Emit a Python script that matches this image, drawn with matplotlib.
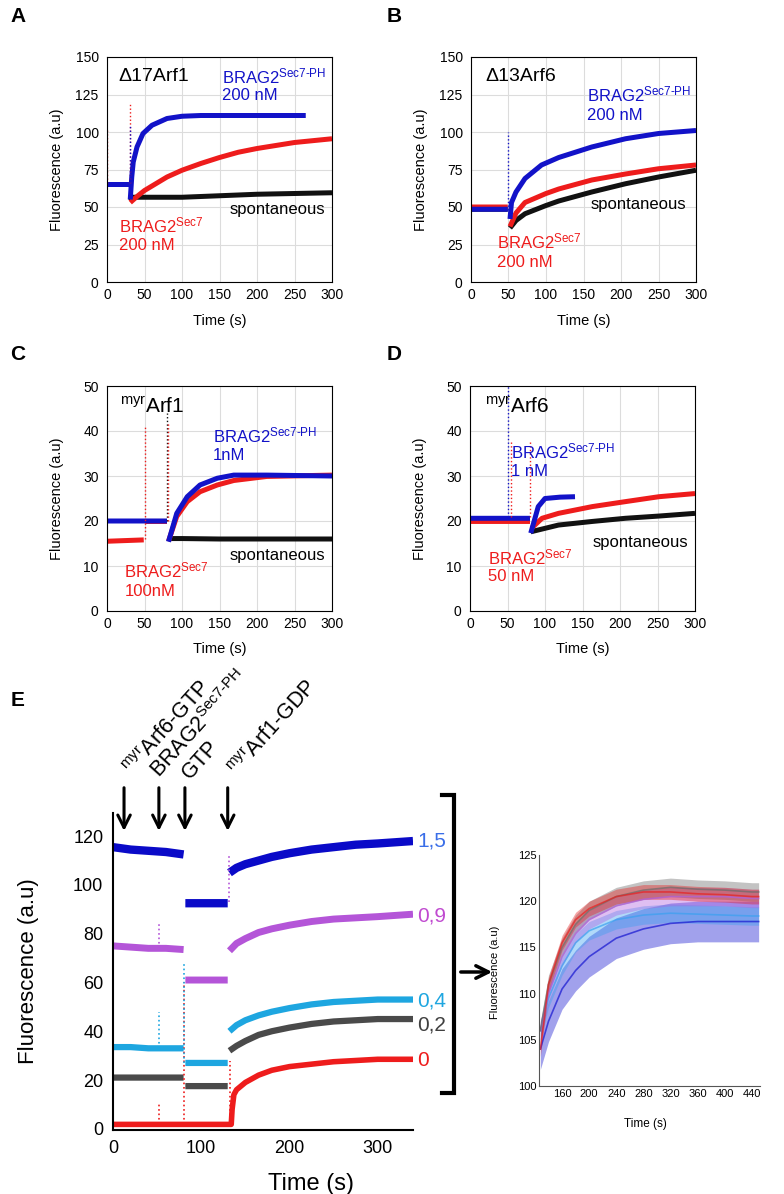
import numpy as np
import matplotlib.pyplot as plt
from matplotlib.lines import Line2D

plt.rcParams['font.family'] = ['Liberation Sans', 'DejaVu Sans']
plt.rcParams['mathtext.fontset'] = 'custom'
plt.rcParams['mathtext.rm'] = 'Liberation Sans'
plt.rcParams['mathtext.it'] = 'Liberation Sans:italic'
plt.rcParams['mathtext.bf'] = 'Liberation Sans:bold'

nan = np.nan
BLUE = '#1212c8'
RED = '#ee1c1c'
BLACK = '#111111'

SEC7PH = r'BRAG2$^{\rm Sec7\text{-}PH}$'
SEC7 = r'BRAG2$^{\rm Sec7}$'

# ---- panel A : d17Arf1 ----
a_black_t = [0, 29, nan, 31, 35, 50, 100, 150, 200, 250, 300]
a_black_v = [65, 65, nan, 54, 56.5, 56.5, 56.5, 57.5, 58.5, 59, 59.5]
a_red_t = [0, 29, nan, 31, 40, 50, 60, 80, 100, 125, 150, 175, 200, 250, 300]
a_red_v = [65, 65, nan, 53, 57, 61, 64, 70, 74.5, 79, 83, 86.5, 89, 93, 95.5]
a_blue_t = [0, 29, nan, 31, 33, 35, 40, 48, 60, 80, 100, 125, 150, 200, 265]
a_blue_v = [65, 65, nan, 55, 70, 80, 90, 99, 104.5, 109, 110.5, 111, 111, 111, 111]
a_spike_t = [0, 30, 30]
a_spike_lo = [66, 66, 66]
a_spike_hi = [103, 120, 105]
a_spike_c = [RED, RED, BLUE]

# ---- panel B : d13Arf6 ----
b_black_t = [0, 49, nan, 52, 60, 72, 100, 117, 161, 206, 250, 300]
b_black_v = [48.5, 48.5, nan, 36, 41, 45.5, 51, 54, 60, 65.5, 70, 74.5]
b_red_t = [0, 49, nan, 52, 60, 72, 100, 117, 161, 206, 250, 300]
b_red_v = [50, 50, nan, 37, 46, 53, 59, 62, 68, 72, 75.5, 78]
b_blue_t = [0, 49, nan, 52, 54, 60, 72, 94, 117, 161, 206, 250, 300]
b_blue_v = [48.5, 48.5, nan, 42, 53, 60, 69, 78, 83, 90, 95.5, 99, 101]
b_spike_t = [50]
b_spike_lo = [48]
b_spike_hi = [100]
b_spike_c = [BLUE]

# ---- panel C : myrArf1 ----
c_black_t = [82, 100, 150, 200, 250, 300]
c_black_v = [16.1, 16.1, 16, 16, 16, 16]
c_red_t = [0, 49, nan, 51, 80, nan, 82, 93, 107, 124, 147, 169, 213, 300]
c_red_v = [15.5, 15.8, nan, 19.9, 19.9, nan, 15.5, 21, 24.3, 26.5, 28, 29, 29.9, 30.2]
c_blue_t = [0, 40, 80, nan, 82, 93, 107, 124, 147, 169, 213, 300]
c_blue_v = [20, 20, 20, nan, 15.4, 21.7, 25.4, 28, 29.5, 30.2, 30.2, 30]
c_spike_t = [50, 80, 81]
c_spike_lo = [16, 20, 20]
c_spike_hi = [41, 44, 42]
c_spike_c = [RED, BLACK, RED]

# ---- panel D : myrArf6 ----
d_black_t = [81, 118, 163, 207, 252, 300]
d_black_v = [17.6, 19.1, 19.9, 20.6, 21.1, 21.7]
d_red_t = [0, 40, 80, nan, 82, 96, 118, 163, 207, 252, 300]
d_red_v = [19.9, 19.9, 19.9, nan, 18.4, 20.6, 21.7, 23.2, 24.3, 25.4, 26.1]
d_blue_t = [0, 40, 80, nan, 81, 91, 100, 120, 140]
d_blue_v = [20.6, 20.6, 20.6, nan, 17.3, 23.2, 25, 25.3, 25.4]
d_spike_t = [50, 55, 80]
d_spike_lo = [21, 21, 21]
d_spike_hi = [50, 38, 38]
d_spike_c = [BLUE, RED, RED]

# ---- panel E : BRAG2Sec7-PH concentration series ----
e_t = [0, 20, 40, 60, 80, nan, 82, 105, 130, nan, 132, 140, 150, 165, 180, 200, 225, 250, 275, 300, 320, 340]
e_blue = [115.5, 114.5, 114, 113.5, 112.5, nan, 92.5, 92.5, 92.5, nan, 105, 107, 108.5, 110, 111.5, 113, 114.5, 115.5, 116.5, 117, 117.5, 118]
e_magenta = [75, 74.5, 74, 74, 73.5, nan, 61, 61, 61, nan, 73, 76, 78, 80.5, 82, 83.5, 85, 86, 86.5, 87, 87.5, 88]
e_lightblue = [33.5, 33.5, 33, 33, 33, nan, 27, 27, 27, nan, 40, 42.5, 44.5, 46.5, 48, 49.5, 51, 52, 52.5, 53, 53, 53]
e_gray = [21, 21, 21, 21, 21, nan, 17.5, 17.5, 17.5, nan, 32, 34, 36, 38.5, 40, 41.5, 43, 44, 44.5, 45, 45, 45]
e_red_t = [0, 40, 80, 110, 134, 135, 137, 140, 150, 165, 180, 200, 225, 250, 275, 300, 320, 340]
e_red = [1.8, 1.8, 1.8, 1.8, 1.8, 8, 14, 16, 19, 22, 24, 25.5, 26.5, 27.5, 28, 28.5, 28.5, 28.5]
e_conc = ['1,5', '0,9', '0,4', '0,2', '0']
e_conc_y = [118, 87.3, 52.6, 42.4, 28.2]
e_add_t = [12.5, 52, 81.5, 130]
e_add_labels = [r'$^{\rm myr}$Arf6-GTP', SEC7PH, 'GTP', r'$^{\rm myr}$Arf1-GDP']
e_spike_t = [52, 52, 52, 81, 81, 131, 133]
e_spike_lo = [74, 33, 2, 2, 27, 93, 2]
e_spike_hi = [84, 48, 10, 60, 68, 112, 28]

# ---- inset : normalised traces ----
in_t = [128, 140, 160, 180, 200, 240, 280, 320, 360, 400, 440, 450]
in_blue = [104, 107, 110.5, 112.5, 114, 116, 117, 117.6, 117.8, 117.8, 117.8, 117.8]
in_lightblue = [106, 109.5, 113, 115.5, 116.8, 118, 118.5, 118.7, 118.6, 118.5, 118.4, 118.4]
in_magenta = [106, 110, 114, 116.5, 118, 119.5, 120.2, 120.5, 120.5, 120.5, 120.3, 120.3]
in_gray = [106, 111, 115, 117.5, 119, 120.5, 121.2, 121.5, 121.3, 121.2, 121, 121]
in_red = [104, 111, 115.5, 118, 119.2, 120.5, 121, 121, 120.8, 120.7, 120.5, 120.5]
in_spread = [2.2, 1.0, 1.0, 1.0, 0.8]

fig = plt.figure(figsize=(7.84, 11.94), dpi=100)


def kinetics(rect, traces, spikes, ymax, ystep):
    ax = fig.add_axes(rect)
    for t, v, c in traces:
        ax.plot(t, v, color=c, lw=3.6, solid_capstyle='butt')
    for t, lo, hi, c in zip(*spikes):
        ax.vlines(t, lo, hi, colors=c, linestyles=':', lw=1)
    ax.set_xlim(0, 300)
    ax.set_ylim(0, ymax)
    ax.set_xticks(range(0, 301, 50))
    ax.set_yticks(np.arange(0, ymax + 1, ystep))
    ax.grid(color='#dcdcdc', lw=0.8)
    ax.set_axisbelow(True)
    ax.tick_params(length=0, labelsize=10, pad=4)
    ax.tick_params(axis='y', pad=6)
    ax.set_xlabel('Time (s)', fontsize=10.5)
    ax.set_ylabel('Fluorescence (a.u)', fontsize=10.5)
    ax.xaxis.set_label_coords(0.5, -0.14)
    ax.yaxis.set_label_coords(-0.19, 0.5)
    return ax


W, H = 225 / 784, 225 / 1194
axA = kinetics([107 / 784, 1 - 282 / 1194, W, H],
               [(a_black_t, a_black_v, BLACK), (a_red_t, a_red_v, RED), (a_blue_t, a_blue_v, BLUE)],
               (a_spike_t, a_spike_lo, a_spike_hi, a_spike_c), 150, 25)
axA.text(15, 137, 'Δ17Arf1', fontsize=14, va='center')
axA.text(153, 137, SEC7PH, fontsize=12, color=BLUE, va='center')
axA.text(153, 124, '200 nM', fontsize=12, color=BLUE, va='center')
axA.text(16, 38, SEC7, fontsize=12, color=RED, va='center')
axA.text(16, 24, '200 nM', fontsize=12, color=RED, va='center')
axA.text(163, 48.5, 'spontaneous', fontsize=12, va='center')

axB = kinetics([471 / 784, 1 - 282 / 1194, W, H],
               [(b_black_t, b_black_v, BLACK), (b_red_t, b_red_v, RED), (b_blue_t, b_blue_v, BLUE)],
               (b_spike_t, b_spike_lo, b_spike_hi, b_spike_c), 150, 25)
axB.text(19, 137, 'Δ13Arf6', fontsize=14, va='center')
axB.text(155, 125, SEC7PH, fontsize=12, color=BLUE, va='center')
axB.text(155, 111, '200 nM', fontsize=12, color=BLUE, va='center')
axB.text(35, 27, SEC7, fontsize=12, color=RED, va='center')
axB.text(35, 13, '200 nM', fontsize=12, color=RED, va='center')
axB.text(160, 52, 'spontaneous', fontsize=12, va='center')

axC = kinetics([107 / 784, 1 - 611 / 1194, W, H],
               [(c_black_t, c_black_v, BLACK), (c_red_t, c_red_v, RED), (c_blue_t, c_blue_v, BLUE)],
               (c_spike_t, c_spike_lo, c_spike_hi, c_spike_c), 50, 10)
axC.text(17, 45.3, r'$^{\rm myr}$Arf1', fontsize=15, va='center')
axC.text(141, 39, SEC7PH, fontsize=12, color=BLUE, va='center')
axC.text(141, 34.5, '1nM', fontsize=12, color=BLUE, va='center')
axC.text(23, 9, SEC7, fontsize=12, color=RED, va='center')
axC.text(23, 4.4, '100nM', fontsize=12, color=RED, va='center')
axC.text(163, 12.4, 'spontaneous', fontsize=12, va='center')

axD = kinetics([470 / 784, 1 - 611 / 1194, W, H],
               [(d_black_t, d_black_v, BLACK), (d_red_t, d_red_v, RED), (d_blue_t, d_blue_v, BLUE)],
               (d_spike_t, d_spike_lo, d_spike_hi, d_spike_c), 50, 10)
axD.text(20, 45.3, r'$^{\rm myr}$Arf6', fontsize=15, va='center')
axD.text(55, 35.5, SEC7PH, fontsize=12, color=BLUE, va='center')
axD.text(55, 31, '1 nM', fontsize=12, color=BLUE, va='center')
axD.text(24, 12, SEC7, fontsize=12, color=RED, va='center')
axD.text(24, 7.6, '50 nM', fontsize=12, color=RED, va='center')
axD.text(163, 15.3, 'spontaneous', fontsize=12, va='center')

# ---- panel E ----
axE = fig.add_axes([113 / 784, 1 - 1130 / 1194, 300 / 784, 317 / 1194])
e_colors = ['#0a0ac8', '#b455d8', '#1ea6e0', '#4a4a4a', '#ee1c1c']
e_label_colors = ['#3a6ee8', '#c04ad0', '#1ea6e0', '#404040', '#ee1c1c']
e_widths = [6, 5, 4.5, 4.5, 4]
e_series = [(e_t, e_blue), (e_t, e_magenta), (e_t, e_lightblue), (e_t, e_gray), (e_red_t, e_red)]
for (t, v), c, w in zip(e_series, e_colors, e_widths):
    axE.plot(t, v, color=c, lw=w, solid_capstyle='butt')
e_spike_c = ['#b455d8', '#1ea6e0', '#ee1c1c', '#ee1c1c', '#1ea6e0', '#b455d8', '#ee1c1c']
for t, lo, hi, c in zip(e_spike_t, e_spike_lo, e_spike_hi, e_spike_c):
    axE.vlines(t, lo, hi, colors=c, linestyles=':', lw=1.2)
for lab, y, c in zip(e_conc, e_conc_y, e_label_colors):
    axE.text(345, y, lab, color=c, fontsize=15, va='center', clip_on=False)
label_pos = [(22, 145), (53, 143.7), (87, 143), (141, 144.5)]
for t, lab, (lx, ly) in zip(e_add_t, e_add_labels, label_pos):
    axE.annotate('', xy=(t, 121), xytext=(t, 141), annotation_clip=False,
                 arrowprops=dict(arrowstyle='->, head_width=0.45, head_length=0.9', lw=2.2, color='black'))
    axE.text(lx, ly, lab, rotation=48, rotation_mode='anchor', ha='left', va='baseline',
             fontsize=15.5, clip_on=False)
axE.set_xlim(0, 340)
axE.set_ylim(-0.5, 129.5)
axE.set_xticks([0, 100, 200, 300])
axE.set_yticks(range(0, 121, 20))
for s in ['top', 'right']:
    axE.spines[s].set_visible(False)
for s in ['left', 'bottom']:
    axE.spines[s].set_linewidth(1.5)
axE.tick_params(length=0, labelsize=13, pad=7)
axE.set_xlabel('Time (s)', fontsize=17)
axE.set_ylabel('Fluorescence (a.u)', fontsize=16)
axE.xaxis.set_label_coords(0.66, -0.135)
axE.yaxis.set_label_coords(-0.245, 0.5)

# bracket and arrow to inset
bx0, bx1, by0, by1 = 442 / 784, 454 / 784, 1 - 795 / 1194, 1 - 1093 / 1194
fig.add_artist(Line2D([bx0, bx1, bx1, bx0], [by0, by0, by1, by1], color='black', lw=3,
                      transform=fig.transFigure, solid_joinstyle='miter'))
fig.add_artist(plt.Annotation('', xy=(495 / 784, 1 - 972 / 1194), xytext=(458 / 784, 1 - 972 / 1194),
                              xycoords='figure fraction',
                              arrowprops=dict(arrowstyle='->, head_width=0.45, head_length=0.9',
                                              lw=2.5, color='black')))

# ---- inset ----
axI = fig.add_axes([539 / 784, 1 - 1086 / 1194, 221 / 784, 231 / 1194])
in_series = [in_blue, in_lightblue, in_magenta, in_gray, in_red]
in_colors = ['#1515d0', '#3aa0f0', '#b060e0', '#6a6a6a', '#e82020']
for v, c, s in zip(in_series, in_colors, in_spread):
    v = np.array(v)
    axI.fill_between(in_t, v - s, v + s, color=c, alpha=0.4, lw=0)
    axI.plot(in_t, v, color=c, lw=1.2, alpha=0.7)
axI.set_xlim(126, 452)
axI.set_ylim(100, 125)
axI.set_xticks(range(160, 441, 40))
axI.set_yticks(range(100, 126, 5))
for s in ['top', 'right']:
    axI.spines[s].set_visible(False)
for s in ['left', 'bottom']:
    axI.spines[s].set_color('#555555')
axI.tick_params(length=0, labelsize=8, pad=2)
axI.set_xlabel('Time (s)', fontsize=8.5)
axI.set_ylabel('Fluorescence (a.u)', fontsize=8)
axI.xaxis.set_label_coords(0.48, -0.14)
axI.yaxis.set_label_coords(-0.176, 0.49)

# panel letters
for lab, x, y in [('A', 18, 17), ('B', 394, 17), ('C', 18, 355), ('D', 394, 355), ('E', 18, 700)]:
    fig.text(x / 784, 1 - y / 1194, lab, fontsize=15, fontweight='bold', ha='center', va='center')

fig.savefig('out.png', dpi=100)
